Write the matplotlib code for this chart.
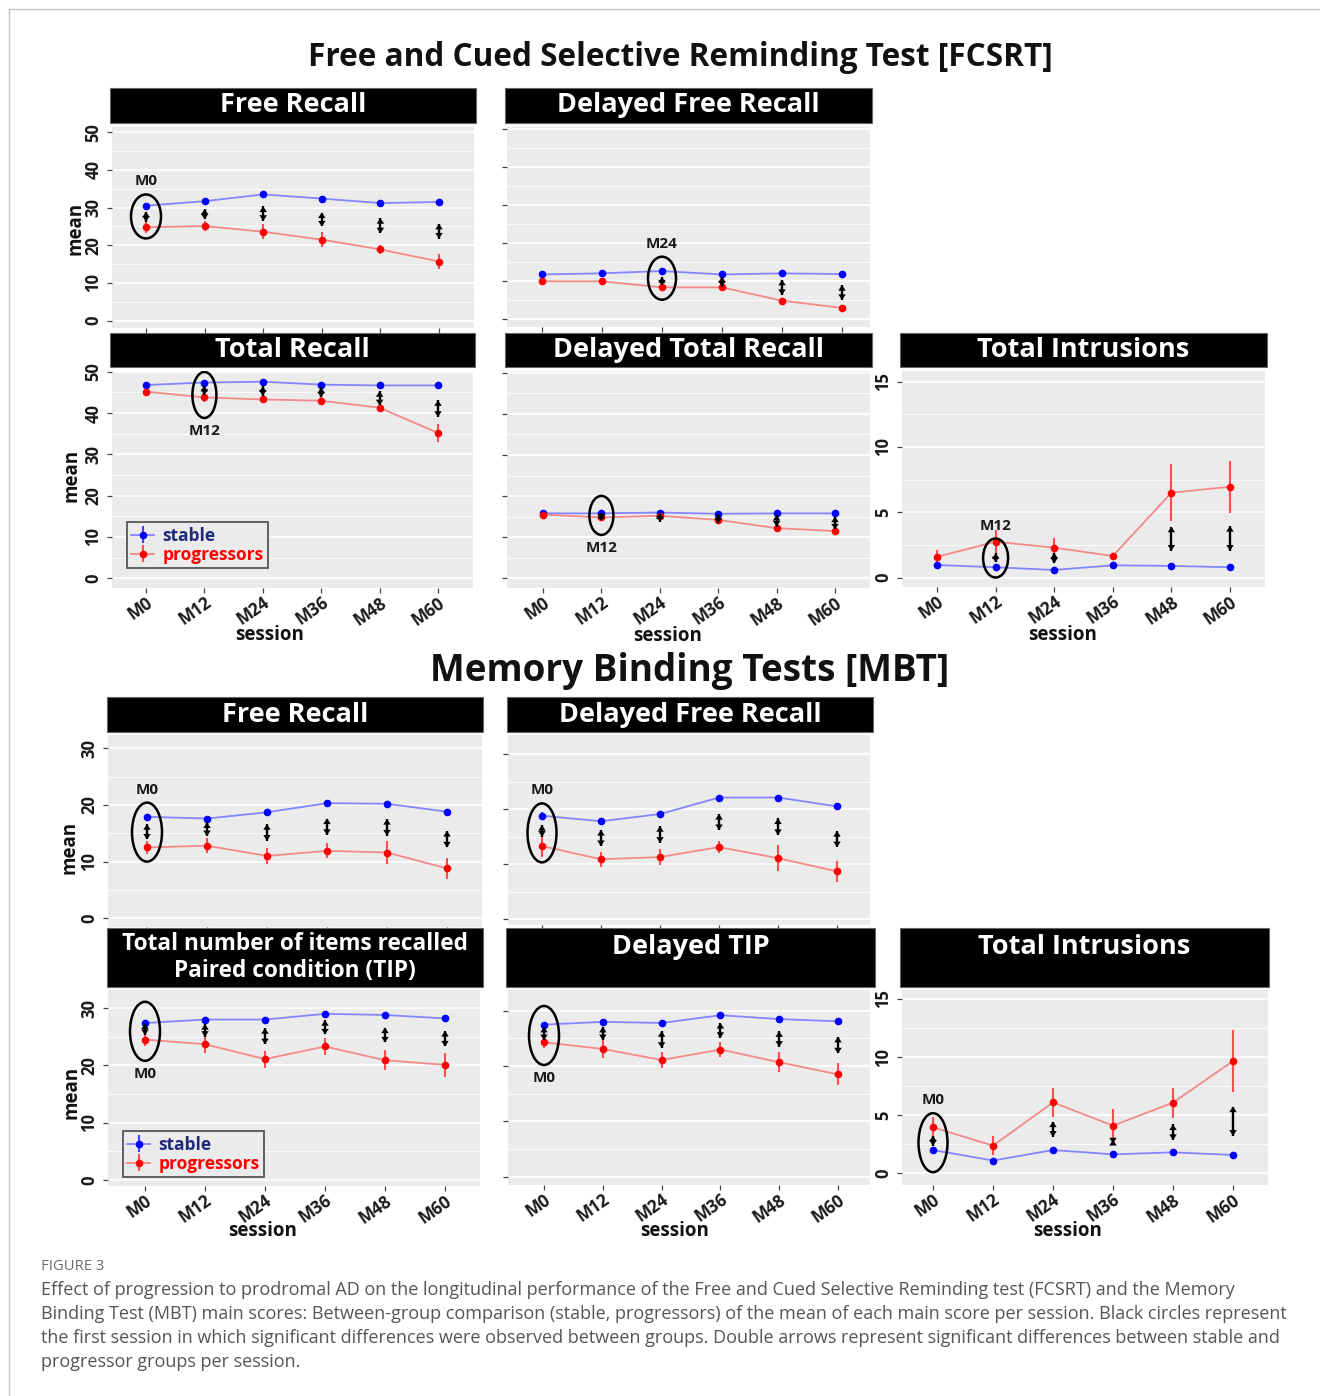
import matplotlib.pyplot as plt
from matplotlib.patches import Ellipse, Rectangle
from matplotlib.lines import Line2D
from matplotlib.ticker import MultipleLocator
import numpy as np

plt.rcParams['font.family'] = ['Open Sans', 'DejaVu Sans']
plt.rcParams['font.weight'] = 'bold'

W, H = 1320, 1396
sessions = ['M0', 'M12', 'M24', 'M36', 'M48', 'M60']

# ---- FCSRT scores: mean and error per session ----
fcsrt_free_stable = [30.5, 31.7, 33.5, 32.4, 31.2, 31.5]
fcsrt_free_stable_se = [0.4, 0.4, 0.4, 0.4, 0.4, 0.4]
fcsrt_free_prog = [24.8, 25.1, 23.6, 21.5, 18.9, 15.7]
fcsrt_free_prog_se = [1.5, 1.4, 2.0, 2.0, 1.2, 2.0]
fcsrt_free_sig = [(26.3, 28.9), (26.9, 29.6), (26.5, 30.3), (25.0, 28.7), (23.2, 27.2), (21.8, 25.7)]

fcsrt_dfree_stable = [11.8, 12.1, 12.7, 11.8, 12.1, 11.9]
fcsrt_dfree_stable_se = [0.2, 0.2, 0.2, 0.2, 0.2, 0.2]
fcsrt_dfree_prog = [10.0, 10.0, 8.4, 8.4, 4.9, 3.0]
fcsrt_dfree_prog_se = [0.3, 0.3, 0.4, 0.4, 0.5, 0.5]
fcsrt_dfree_sig = [None, None, (8.9, 11.1), (8.6, 11.2), (6.4, 10.4), (5.1, 9.0)]

fcsrt_total_stable = [46.8, 47.4, 47.6, 46.9, 46.7, 46.7]
fcsrt_total_stable_se = [0.3, 0.3, 0.3, 0.3, 0.3, 0.3]
fcsrt_total_prog = [45.2, 43.8, 43.3, 43.0, 41.3, 35.2]
fcsrt_total_prog_se = [0.6, 1.0, 0.9, 1.0, 0.8, 2.1]
fcsrt_total_sig = [None, (44.4, 46.6), (44.2, 46.5), (43.8, 46.2), (41.9, 45.3), (39.1, 43.1)]

fcsrt_dtotal_stable = [15.8, 15.8, 16.0, 15.7, 15.8, 15.8]
fcsrt_dtotal_stable_se = [0.2, 0.2, 0.2, 0.2, 0.2, 0.2]
fcsrt_dtotal_prog = [15.5, 14.8, 15.2, 14.2, 12.2, 11.5]
fcsrt_dtotal_prog_se = [0.3, 0.4, 0.4, 0.5, 0.8, 0.6]
fcsrt_dtotal_sig = [None, (14.2, 15.9), (13.8, 15.8), (13.4, 15.6), (12.6, 15.4), (11.9, 15.0)]

fcsrt_intr_stable = [0.97, 0.8, 0.59, 0.95, 0.9, 0.8]
fcsrt_intr_stable_se = [0.1, 0.1, 0.1, 0.1, 0.1, 0.1]
fcsrt_intr_prog = [1.6, 2.75, 2.3, 1.66, 6.5, 6.96]
fcsrt_intr_prog_se = [0.5, 0.9, 0.7, 0.2, 2.2, 2.0]
fcsrt_intr_sig = [None, (1.18, 1.87), (1.1, 1.9), None, (2.07, 3.9), (2.07, 3.95)]

# ---- MBT scores ----
mbt_free_stable = [17.9, 17.6, 18.7, 20.3, 20.2, 18.8]
mbt_free_stable_se = [0.5, 0.5, 0.5, 0.5, 0.5, 0.5]
mbt_free_prog = [12.5, 12.8, 11.0, 11.9, 11.6, 8.8]
mbt_free_prog_se = [1.1, 1.3, 1.4, 1.3, 2.0, 1.8]
mbt_free_sig = [(13.9, 16.6), (14.5, 16.9), (13.7, 16.6), (14.7, 17.6), (14.6, 17.5), (12.5, 15.4)]

mbt_dfree_stable = [18.8, 17.8, 19.1, 22.1, 22.1, 20.5]
mbt_dfree_stable_se = [0.6, 0.5, 0.5, 0.5, 0.5, 0.5]
mbt_dfree_prog = [13.3, 10.9, 11.3, 13.1, 11.1, 8.7]
mbt_dfree_prog_se = [2.0, 1.4, 1.5, 1.1, 2.4, 1.9]
mbt_dfree_sig = [(15.0, 17.1), (13.3, 16.2), (13.9, 16.9), (16.2, 19.1), (15.3, 18.3), (13.1, 16.0)]

mbt_tip_stable = [27.4, 28.0, 28.0, 29.0, 28.8, 28.2]
mbt_tip_stable_se = [0.4, 0.4, 0.4, 0.4, 0.4, 0.4]
mbt_tip_prog = [24.5, 23.7, 21.1, 23.3, 20.9, 20.1]
mbt_tip_prog_se = [1.1, 1.45, 1.5, 1.45, 1.75, 2.1]
mbt_tip_sig = [(25.3, 27.3), (25.0, 27.2), (23.7, 26.5), (25.4, 27.9), (24.0, 26.6), (23.3, 26.0)]

mbt_dtip_stable = [27.5, 28.0, 27.8, 29.2, 28.5, 28.1]
mbt_dtip_stable_se = [0.4, 0.4, 0.4, 0.4, 0.4, 0.4]
mbt_dtip_prog = [24.3, 23.1, 21.1, 23.0, 20.7, 18.5]
mbt_dtip_prog_se = [1.1, 1.6, 1.4, 1.35, 1.8, 2.0]
mbt_dtip_sig = [(24.7, 27.1), (24.7, 27.1), (23.3, 26.3), (25.1, 27.8), (23.5, 26.3), (22.3, 25.3)]

mbt_intr_stable = [2.0, 1.1, 2.0, 1.63, 1.8, 1.58]
mbt_intr_stable_se = [0.2, 0.2, 0.2, 0.2, 0.2, 0.2]
mbt_intr_prog = [3.96, 2.38, 6.1, 4.1, 6.08, 9.66]
mbt_intr_prog_se = [0.9, 0.8, 1.26, 1.4, 1.3, 2.7]
mbt_intr_sig = [(2.38, 3.24), None, (3.15, 4.45), (2.58, 2.87), (2.87, 4.2), (3.24, 5.74)]

fig = plt.figure(figsize=(W / 100, H / 100), dpi=100)


def fig_rect(l, t, r, b):
    return [l / W, 1 - b / H, (r - l) / W, (b - t) / H]


def strip(l, t, r, b, label, size=19.5, ty=None):
    x, y, w, h = fig_rect(l, t, r, b)
    fig.add_artist(Rectangle((x, y), w, h, transform=fig.transFigure,
                             facecolor='black', edgecolor='#666666', lw=0.8))
    ty = (t + b) / 2 if ty is None else ty
    fig.text((l + r) / 2 / W, 1 - ty / H, label, color='white', fontsize=size,
             ha='center', va='center', linespacing=1.2)


def panel(box, x_first, x_last, zero_px, ppu, step, stable, stable_se, prog, prog_se, sig,
          circle, label_side, circle_dy=0, xlabels=False, ylabels=True, legend_at=None):
    l, t, r, b = box
    ax = fig.add_axes(fig_rect(l, t, r, b))
    sp = (x_last - x_first) / 5
    ax.set_xlim(-(x_first - l) / sp, 5 + (r - x_last) / sp)
    ylo, yhi = -(b - zero_px) / ppu, (zero_px - t) / ppu
    ax.set_ylim(ylo, yhi)
    ax.set_facecolor('#EBEBEB')
    for s in ax.spines.values():
        s.set_visible(False)

    ax.yaxis.set_minor_locator(MultipleLocator(step / 2))
    ax.grid(which='major', axis='y', color='white', lw=1.2)
    ax.grid(which='minor', axis='y', color='white', lw=0.6)
    ax.set_axisbelow(True)

    x = np.arange(6)
    ax.errorbar(x, stable, yerr=stable_se, fmt='-o', color='#8585ff', lw=1.3, ms=4.5,
                mfc='#0000ff', mec='#0000ff', ecolor='#4040ff', elinewidth=1.5, capsize=0,
                label='stable')
    ax.errorbar(x, prog, yerr=prog_se, fmt='-o', color='#f28a8a', lw=1.3, ms=4.5,
                mfc='#ff0000', mec='#ff0000', ecolor='#ff4d4d', elinewidth=1.5, capsize=0,
                label='progressors')

    # double arrows for significant group differences: a shaft plus filled heads
    for i, s in enumerate(sig):
        if s is None:
            continue
        ax.vlines(i, s[0], s[1], color='black', lw=1.7, zorder=4)
        ax.annotate('', xy=(i, s[0]), xytext=(i, s[1]),
                    arrowprops=dict(arrowstyle='<|-|>,head_length=0.4,head_width=0.27',
                                    color='black', lw=0, shrinkA=0, shrinkB=0,
                                    mutation_scale=10))

    # circle on the first session with a significant difference
    first = next(i for i, s in enumerate(sig) if s is not None)
    w_px, h_px = circle
    yc = (stable[first] + prog[first]) / 2 - circle_dy / ppu
    ax.add_patch(Ellipse((first, yc), w_px / sp, h_px / ppu, fill=False,
                         ec='black', lw=1.8, zorder=5))
    off = (h_px / 2 + 13) * (1 if label_side == 'above' else -1)
    ax.annotate(sessions[first], xy=(first, yc), xytext=(0, off), textcoords='offset pixels',
                ha='center', va='center', fontsize=11, color='#1a1a1a')

    ax.set_xticks(x)
    ax.tick_params(colors='#444444', labelcolor='#1a1a1a', length=3.5, width=0.9)
    ax.tick_params(axis='x', pad=0.5)
    ax.tick_params(which='minor', length=0)
    if xlabels:
        ax.set_xticklabels(sessions, rotation=35, ha='right', va='top',
                           rotation_mode='anchor', fontsize=12.3)
    else:
        ax.set_xticklabels([])
    yt = np.arange(0, yhi + 1e-9, step)
    ax.set_yticks(yt)
    if ylabels:
        ax.set_yticklabels([f'{v:g}' for v in yt], rotation=90, va='center', fontsize=12)
    else:
        ax.set_yticklabels([])

    if legend_at is not None:
        bx = (legend_at[0] - l) / (r - l)
        by = (b - legend_at[1]) / (b - t)
        leg = ax.legend(loc='lower left', bbox_to_anchor=(bx, by), borderaxespad=0,
                        fontsize=12.5, labelcolor=['#1f2a78', '#ff0000'],
                        facecolor='#EBEBEB', edgecolor='#555555', framealpha=1,
                        fancybox=False, handlelength=1.3, handletextpad=0.5,
                        labelspacing=0.05, borderpad=0.25)
        leg.get_frame().set_linewidth(1.3)
    return ax


# ---------------- FCSRT ----------------
fig.text(680 / W, 1 - 58 / H, 'Free and Cued Selective Reminding Test [FCSRT]',
         fontsize=22.7, ha='center', va='center', color='#111111')

strip(110, 88, 476, 123, 'Free Recall')
panel((112, 127, 474, 328), 146, 439, 320.7, 3.77, 10,
      fcsrt_free_stable, fcsrt_free_stable_se, fcsrt_free_prog, fcsrt_free_prog_se,
      fcsrt_free_sig, (30, 44), 'above')

strip(505, 88, 872, 123, 'Delayed Free Recall')
panel((507, 127, 870, 327), 542, 842, 319.3, 3.8, 10,
      fcsrt_dfree_stable, fcsrt_dfree_stable_se, fcsrt_dfree_prog, fcsrt_dfree_prog_se,
      fcsrt_dfree_sig, (28, 43), 'above', circle_dy=-1, ylabels=False)

strip(110, 333, 475, 367, 'Total Recall')
panel((112, 371, 473, 588), 146, 438, 578.3, 4.13, 10,
      fcsrt_total_stable, fcsrt_total_stable_se, fcsrt_total_prog, fcsrt_total_prog_se,
      fcsrt_total_sig, (24, 46), 'below', circle_dy=5, xlabels=True, legend_at=(127, 568))

strip(505, 333, 872, 367, 'Delayed Total Recall')
panel((507, 371, 870, 588), 543, 835, 578.3, 4.11, 10,
      fcsrt_dtotal_stable, fcsrt_dtotal_stable_se, fcsrt_dtotal_prog, fcsrt_dtotal_prog_se,
      fcsrt_dtotal_sig, (24, 39), 'below', xlabels=True, ylabels=False)

strip(900, 333, 1267, 367, 'Total Intrusions')
panel((902, 371, 1265, 587), 937, 1230, 577.7, 13.07, 5,
      fcsrt_intr_stable, fcsrt_intr_stable_se, fcsrt_intr_prog, fcsrt_intr_prog_se,
      fcsrt_intr_sig, (25, 39), 'above', circle_dy=3.5, xlabels=True)

# ---------------- MBT ----------------
fig.text(690 / W, 1 - 671 / H, 'Memory Binding Tests [MBT]',
         fontsize=26.6, ha='center', va='center', color='#111111')

strip(107, 697, 483, 732, 'Free Recall')
panel((108, 735, 482, 927), 147, 447, 918.3, 5.67, 10,
      mbt_free_stable, mbt_free_stable_se, mbt_free_prog, mbt_free_prog_se,
      mbt_free_sig, (30, 59), 'above')

strip(507, 697, 873, 732, 'Delayed Free Recall')
panel((508, 735, 870, 925), 542, 837, 919.3, 5.51, 10,
      mbt_dfree_stable, mbt_dfree_stable_se, mbt_dfree_prog, mbt_dfree_prog_se,
      mbt_dfree_sig, (29, 59), 'above', circle_dy=2, ylabels=False)

strip(107, 928, 483, 987, 'Total number of items recalled\nPaired condition (TIP)', size=16.3)
panel((108, 990, 480, 1186), 145, 445, 1180, 5.73, 10,
      mbt_tip_stable, mbt_tip_stable_se, mbt_tip_prog, mbt_tip_prog_se,
      mbt_tip_sig, (30, 59), 'below', xlabels=True, legend_at=(123, 1177))

strip(506, 928, 875, 987, 'Delayed TIP', ty=947)
panel((508, 990, 870, 1185), 544, 838, 1176.7, 5.53, 10,
      mbt_dtip_stable, mbt_dtip_stable_se, mbt_dtip_prog, mbt_dtip_prog_se,
      mbt_dtip_sig, (30, 59), 'below', circle_dy=2, xlabels=True, ylabels=False)

strip(900, 928, 1269, 987, 'Total Intrusions', ty=947)
panel((902, 990, 1268, 1185), 933, 1233, 1173.3, 11.62, 5,
      mbt_intr_stable, mbt_intr_stable_se, mbt_intr_prog, mbt_intr_prog_se,
      mbt_intr_sig, (29, 59), 'above', circle_dy=4, xlabels=True)

# axis titles
for xm, ym in [(75, 228), (72, 475), (70, 847), (72, 1092)]:
    fig.text(xm / W, 1 - ym / H, 'mean', rotation=90, fontsize=13.5,
             ha='center', va='center', color='#111111')
for xs, ys in [(270, 635), (668, 636), (1063, 635), (263, 1231), (675, 1231), (1068, 1231)]:
    fig.text(xs / W, 1 - ys / H, 'session', fontsize=13.5,
             ha='center', va='center', color='#111111')

# caption
fig.text(41 / W, 1 - 1267 / H, 'FIGURE 3', fontsize=10.6, fontweight='normal',
         color='#6b6b6b', ha='left', va='center')
caption = [
    'Effect of progression to prodromal AD on the longitudinal performance of the Free and Cued '
    'Selective Reminding test (FCSRT) and the Memory',
    'Binding Test (MBT) main scores: Between-group comparison (stable, progressors) of the mean '
    'of each main score per session. Black circles represent',
    'the first session in which significant differences were observed between groups. Double '
    'arrows represent significant differences between stable and',
    'progressor groups per session.',
]
for k, line in enumerate(caption):
    fig.text(41 / W, 1 - (1290 + 24 * k) / H, line, fontsize=13.0, fontweight='normal',
             color='#555555', ha='left', va='center')

# page border
fig.add_artist(Line2D([8.5 / W, 8.5 / W], [1 - 10 / H, 0], transform=fig.transFigure,
                      color='#c4c4c4', lw=1))
fig.add_artist(Line2D([8.5 / W, 1], [1 - 8.5 / H, 1 - 8.5 / H], transform=fig.transFigure,
                      color='#c4c4c4', lw=1))

fig.savefig('out.png', dpi=100, facecolor='white')
